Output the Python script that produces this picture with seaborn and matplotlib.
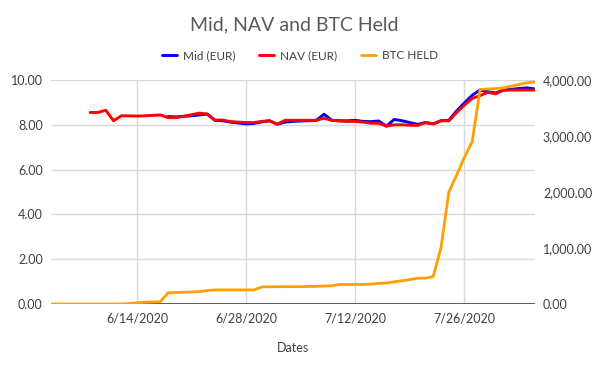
import numpy as np
import pandas as pd
import matplotlib
matplotlib.use("Agg")
import matplotlib.pyplot as plt
import matplotlib.dates as mdates
from matplotlib.ticker import FuncFormatter
import seaborn as sns

# ── Data ──────────────────────────────────────────────────
dates = pd.date_range("2020-06-03", "2020-08-04", freq="D")

nan = np.nan
nav = [nan, nan, nan, nan, nan,
       8.55, 8.55, 8.65, 8.18, 8.40, 8.40, 8.39, 8.40, 8.42, 8.44,
       8.32, 8.32, 8.38, 8.45, 8.52, 8.48, 8.21, 8.21, 8.14, 8.12,
       8.10, 8.10, 8.15, 8.18, 8.03, 8.20, 8.20, 8.20, 8.20, 8.20,
       8.29, 8.20, 8.17, 8.15, 8.15, 8.12, 8.07, 8.07, 7.94, 8.00,
       8.00, 7.98, 7.97, 8.10, 8.04, 8.18, 8.18, 8.55, 8.88, 9.18,
       9.30, 9.45, 9.38, 9.55, 9.55, 9.55, 9.55, 9.55]

mid = [nan] * 15 + [
       8.37, 8.35, 8.38, 8.40, 8.44, 8.48, 8.20, 8.18, 8.12, 8.08,
       8.04, 8.06, 8.13, 8.18, 8.02, 8.12, 8.15, 8.17, 8.18, 8.20,
       8.47, 8.20, 8.18, 8.18, 8.20, 8.15, 8.14, 8.17, 7.94, 8.24,
       8.18, 8.10, 8.02, 8.10, 8.04, 8.18, 8.20, 8.62, 8.98, 9.32,
       9.55, 9.48, 9.42, 9.55, 9.58, 9.62, 9.65, 9.60]

btc_held = [0, 0, 0, 0, 0, 0, 0, 0, 0, 0,
            8, 22, 30, 36, 42, 200, 205, 210, 215, 222,
            240, 252, 252, 252, 252, 252, 252, 305, 308, 309,
            310, 310, 310, 312, 315, 320, 325, 348, 348, 348,
            348, 355, 370, 375, 395, 415, 435, 460, 462, 490,
            1010, 2000, 2300, 2620, 2900, 3830, 3840, 3845, 3860, 3890,
            3920, 3950, 3965]

tick_dates = pd.to_datetime(["2020-06-14", "2020-06-28", "2020-07-12", "2020-07-26"])

df = pd.DataFrame({"Dates": dates, "Mid (EUR)": mid, "NAV (EUR)": nav, "BTC HELD": btc_held})

# ── Style ────────────────────────────────────────────────
sns.set_theme(style="white")
plt.rcParams["font.family"] = ["Lato", "DejaVu Sans"]
TXT = "#595959"
GRID = "#d9d9d9"

fig = plt.figure(figsize=(6, 3.71), dpi=100)
ax = fig.add_axes([0.0853, 0.1806, 0.8057, 0.6038])
ax2 = ax.twinx()

sns.lineplot(data=df, x="Dates", y="Mid (EUR)", ax=ax, color="#0000ff", lw=2.1, label="Mid (EUR)", legend=False)
sns.lineplot(data=df, x="Dates", y="NAV (EUR)", ax=ax, color="#ff0000", lw=2.1, label="NAV (EUR)", legend=False)
sns.lineplot(data=df, x="Dates", y="BTC HELD", ax=ax2, color="#ffa000", lw=2.0, label="BTC HELD", legend=False)

ax.set_xlim(dates[0], dates[-1])
ax.set_ylim(0, 10)
ax2.set_ylim(0, 4000)
ax.set_yticks([0, 2, 4, 6, 8, 10])
ax2.set_yticks([0, 1000, 2000, 3000, 4000])
ax.yaxis.set_major_formatter(FuncFormatter(lambda v, p: f"{v:.2f}"))
ax2.yaxis.set_major_formatter(FuncFormatter(lambda v, p: f"{v:,.2f}"))
ax.set_xticks(tick_dates)
ax.xaxis.set_major_formatter(FuncFormatter(
    lambda v, p: f"{mdates.num2date(v).month}/{mdates.num2date(v).day}/{mdates.num2date(v).year}"))

ax.grid(True, color=GRID, lw=1)
ax.set_axisbelow(True)
for a in (ax, ax2):
    for s in ("top", "left", "right", "bottom"):
        a.spines[s].set_visible(False)
    a.tick_params(length=0, labelsize=9, colors="#404040", pad=6)
    a.set_ylabel("")
ax.axhline(0, color="#404040", lw=1.2, zorder=1)

ax.set_xlabel("Dates", fontsize=9, color="#404040", labelpad=13)

fig.suptitle("Mid, NAV and BTC Held", x=0.49, y=0.955, fontsize=14, color=TXT)

h1, l1 = ax.get_legend_handles_labels()
h2, l2 = ax2.get_legend_handles_labels()
fig.legend(h1 + h2, l1 + l2, loc="center", bbox_to_anchor=(0.5, 0.85), ncol=3,
           frameon=False, fontsize=8.5, handlelength=1.3, columnspacing=2.0,
           handletextpad=0.5, labelcolor="#404040")

fig.savefig("out.png", dpi=100)
